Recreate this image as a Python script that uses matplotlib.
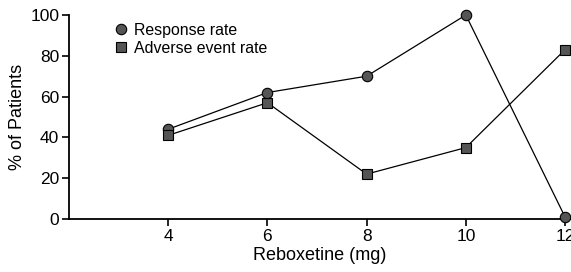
import matplotlib
matplotlib.use("Agg")
import matplotlib.pyplot as plt

doses = [4, 6, 8, 10, 12]
response_rate = [44, 62, 70, 100, 1]
adverse_rate = [41, 57, 22, 35, 83]
x_ticks = [4, 6, 8, 10, 12]
y_ticks = [0, 20, 40, 60, 80, 100]

plt.rcParams['font.family'] = ['Liberation Sans', 'DejaVu Sans']

fig = plt.figure(figsize=(5.71, 2.72), dpi=100)
W, H = 571, 272
left, right = 69, 571
top, bottom = 15, 219
ax = fig.add_axes([left / W, (H - bottom) / H, (right - left) / W, (bottom - top) / H])

face = '#555555'
ax.plot(doses, response_rate, color='black', lw=0.9, marker='o', ms=7.5,
        mfc=face, mec='black', mew=0.8, clip_on=False, label='Response rate', zorder=3)
ax.plot(doses, adverse_rate, color='black', lw=0.9, marker='s', ms=7.5,
        mfc=face, mec='black', mew=0.8, clip_on=False, label='Adverse event rate', zorder=3)

ax.set_xlim(2, 12.12)
ax.set_ylim(0, 100)
ax.set_xticks(x_ticks)
ax.set_yticks(y_ticks)
ax.tick_params(direction='out', length=5, width=1.2, labelsize=12.5, pad=2)
for s in ['top', 'right']:
    ax.spines[s].set_visible(False)
for s in ['left', 'bottom']:
    ax.spines[s].set_linewidth(1.3)
ax.spines['bottom'].set_clip_on(False)

ax.set_xlabel('Reboxetine (mg)', fontsize=13, labelpad=2)
ax.set_ylabel('% of Patients', fontsize=13, labelpad=3)

ax.legend(loc='upper left', bbox_to_anchor=(0.069, 1.015), frameon=False, fontsize=11.4,
          handlelength=0.8, handletextpad=0.4, borderaxespad=0.3, labelspacing=0.18,
          markerscale=1.0)
for h in ax.get_legend().legend_handles:
    h.set_linestyle('none')

fig.savefig('out.png', dpi=100)
